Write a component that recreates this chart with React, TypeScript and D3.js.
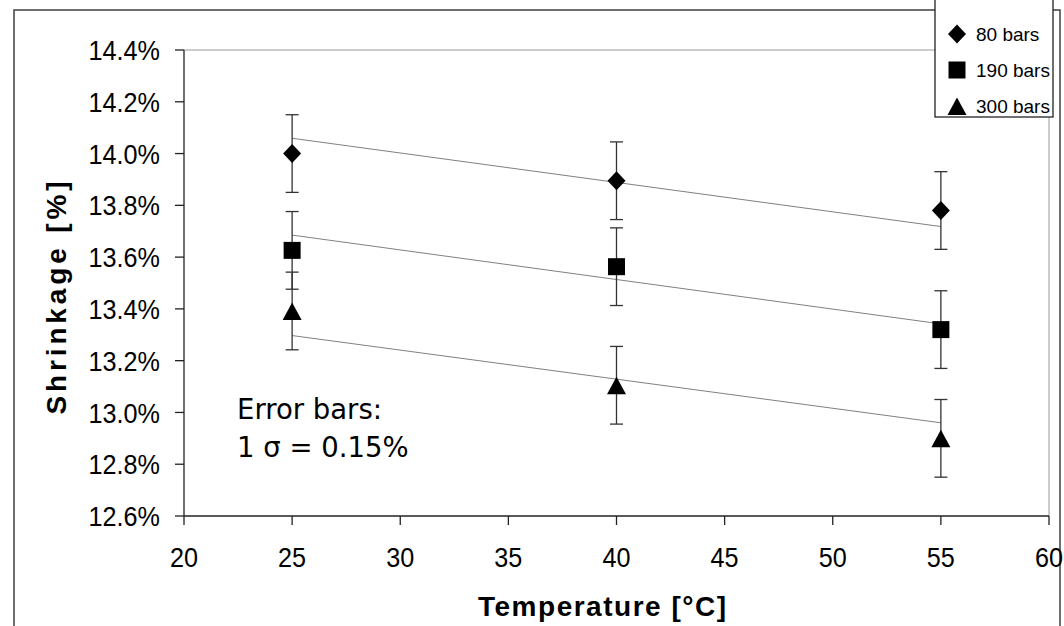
import React from "react";
import * as d3 from "d3";

// temperatures [°C] and measured shrinkage [%]
const temps = [25, 40, 55];
const shrink80 = [14.0, 13.895, 13.78];
const shrink190 = [13.626, 13.563, 13.32];
const shrink300 = [13.392, 13.105, 12.9];

// linear trend lines, value at first and last temperature
const trendTemps = [25, 55];
const trend80 = [14.059, 13.718];
const trend190 = [13.685, 13.342];
const trend300 = [13.297, 12.96];

const sigma = 0.15;
const xTicks = [20, 25, 30, 35, 40, 45, 50, 55, 60];
const yTicks = [12.6, 12.8, 13.0, 13.2, 13.4, 13.6, 13.8, 14.0, 14.2, 14.4];
const seriesNames = ["80 bars", "190 bars", "300 bars"];

const W = 1064;
const H = 626;
const left = 184, right = 1049, top = 50, bottom = 516;

function marker(kind: number, cx: number, cy: number) {
    const p = d3.path();
    if (kind === 0) {
        p.moveTo(cx, cy - 9.5);
        p.lineTo(cx + 9, cy);
        p.lineTo(cx, cy + 9.5);
        p.lineTo(cx - 9, cy);
    } else if (kind === 1) {
        p.rect(cx - 8.5, cy - 8.5, 17, 17);
    } else {
        p.moveTo(cx, cy - 8.5);
        p.lineTo(cx + 9.5, cy + 9);
        p.lineTo(cx - 9.5, cy + 9);
    }
    p.closePath();
    return p.toString();
}

export default function App() {
    const x = d3.scaleLinear().domain([20, 60]).range([left, right]);
    const y = d3.scaleLinear().domain([12.6, 14.4]).range([bottom, top]);
    const series = [shrink80, shrink190, shrink300];
    const trends = [trend80, trend190, trend300];
    const font = "'Liberation Sans', Arial, sans-serif";

    return (
        <svg width={W} height={H} style={{ position: "absolute", left: 0, top: 0, background: "#fff" }}>
            {/* outer chart frame */}
            <rect x={14} y={10} width={1046} height={700} fill="#fff" stroke="#404040" strokeWidth={1.5} />

            {/* plot area frame (top + right) */}
            <line x1={left} x2={right} y1={top} y2={top} stroke="#999" strokeWidth={1} />
            <line x1={right} x2={right} y1={top} y2={bottom} stroke="#999" strokeWidth={1} />

            {/* trend lines */}
            {trends.map((t, i) => (
                <line key={"t" + i}
                      x1={x(trendTemps[0])} y1={y(t[0])}
                      x2={x(trendTemps[1])} y2={y(t[1])}
                      stroke="#808080" strokeWidth={1} />
            ))}

            {/* error bars */}
            {series.map((s, i) => s.map((v, j) => {
                const cx = x(temps[j]);
                const y1 = y(v + sigma), y2 = y(v - sigma);
                return (
                    <g key={"e" + i + j} stroke="#333" strokeWidth={1.3}>
                        <line x1={cx} x2={cx} y1={y1} y2={y2} />
                        <line x1={cx - 6.5} x2={cx + 6.5} y1={y1} y2={y1} />
                        <line x1={cx - 6.5} x2={cx + 6.5} y1={y2} y2={y2} />
                    </g>
                );
            }))}

            {/* markers */}
            {series.map((s, i) => s.map((v, j) => (
                <path key={"m" + i + j} d={marker(i, x(temps[j]), y(v))} fill="#000" />
            )))}

            {/* y axis */}
            <line x1={left} x2={left} y1={top} y2={bottom} stroke="#222" strokeWidth={1.3} />
            {yTicks.map(t => (
                <g key={"y" + t}>
                    <line x1={left - 9} x2={left} y1={y(t)} y2={y(t)} stroke="#222" strokeWidth={1.3} />
                    <text transform={`translate(160,${y(t)}) scale(0.9,1)`} dy="0.36em" textAnchor="end"
                          fontFamily={font} fontSize={28} fill="#000">{t.toFixed(1)}%</text>
                </g>
            ))}

            {/* x axis */}
            <line x1={left} x2={right} y1={bottom} y2={bottom} stroke="#222" strokeWidth={1.3} />
            {xTicks.map(t => (
                <g key={"x" + t}>
                    <line x1={x(t)} x2={x(t)} y1={bottom} y2={bottom + 9} stroke="#222" strokeWidth={1.3} />
                    <text transform={`translate(${x(t)},567) scale(0.9,1)`} textAnchor="middle"
                          fontFamily={font} fontSize={28} fill="#000">{t}</text>
                </g>
            ))}

            {/* axis titles */}
            <text x={602} y={616} textAnchor="middle" fontFamily={font} fontWeight="bold"
                  fontSize={28} textLength={248} lengthAdjust="spacing">Temperature [°C]</text>
            <text transform="translate(66,298) rotate(-90)" textAnchor="middle" fontFamily={font}
                  fontWeight="bold" fontSize={28} textLength={233} lengthAdjust="spacing">Shrinkage [%]</text>

            {/* annotation */}
            <text x={237} y={419} fontFamily="'DejaVu Sans', Verdana, sans-serif" fontSize={27.5}>Error bars:</text>
            <text x={237} y={457} fontFamily="'DejaVu Sans', Verdana, sans-serif" fontSize={27.5}>1 σ = 0.15%</text>

            {/* legend */}
            <rect x={935} y={-1} width={118} height={118} fill="#fff" stroke="#222" strokeWidth={1.3} />
            {seriesNames.map((n, i) => (
                <g key={"l" + i}>
                    <path d={marker(i, 957, 34 + i * 36)} fill="#000" />
                    <text x={976} y={34 + i * 36} dy="0.36em" fontFamily={font} fontSize={19}>{n}</text>
                </g>
            ))}
        </svg>
    );
}
